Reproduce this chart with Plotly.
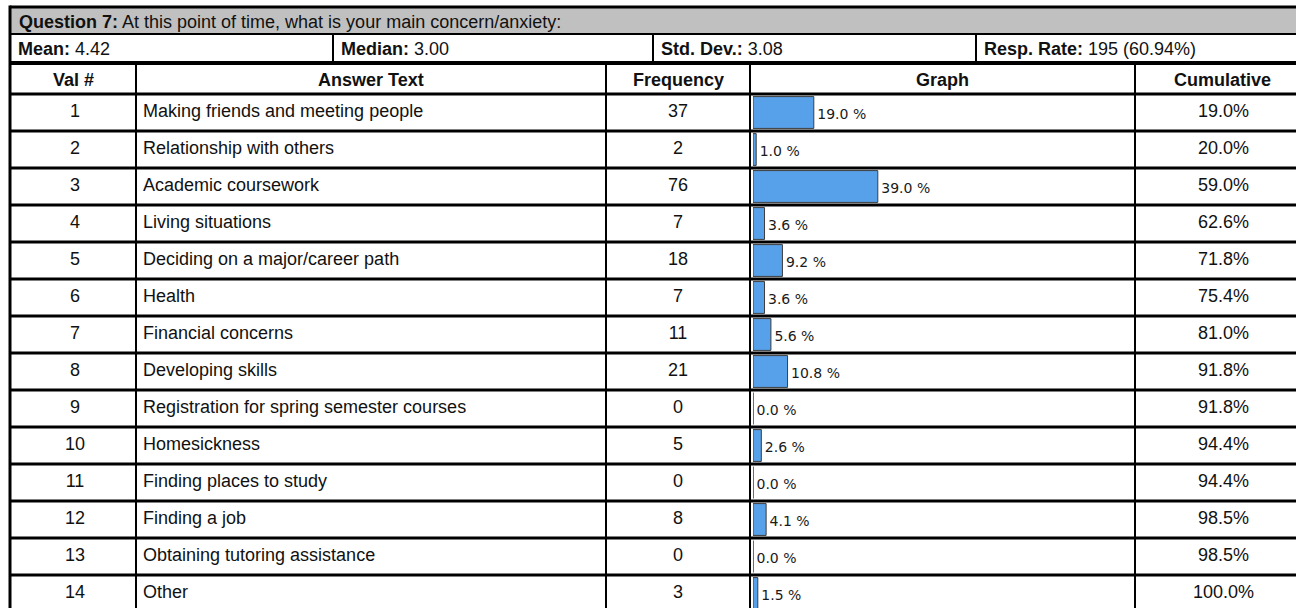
import plotly.graph_objects as go

# survey data
val_nums = list(range(1, 15))
answers = [
    "Making friends and meeting people",
    "Relationship with others",
    "Academic coursework",
    "Living situations",
    "Deciding on a major/career path",
    "Health",
    "Financial concerns",
    "Developing skills",
    "Registration for spring semester courses",
    "Homesickness",
    "Finding places to study",
    "Finding a job",
    "Obtaining tutoring assistance",
    "Other",
]
frequencies = [37, 2, 76, 7, 18, 7, 11, 21, 0, 5, 0, 8, 0, 3]
percents = [19.0, 1.0, 39.0, 3.6, 9.2, 3.6, 5.6, 10.8, 0.0, 2.6, 0.0, 4.1, 0.0, 1.5]
cumulative = [19.0, 20.0, 59.0, 62.6, 71.8, 75.4, 81.0, 91.8, 91.8, 94.4, 94.4, 98.5, 98.5, 100.0]

question_label = "Question 7:"
question_text = "At this point of time, what is your main concern/anxiety:"
stat_labels = ["Mean:", "Median:", "Std. Dev.:", "Resp. Rate:"]
stat_values = ["4.42", "3.00", "3.08", "195 (60.94%)"]
headers = ["Val #", "Answer Text", "Frequency", "Graph", "Cumulative"]

# page geometry (pixels)
W, H = 1296, 608
LEFT, RIGHT = 10, 1310
TOP, TITLE_BOTTOM, STATS_BOTTOM, HEAD_BOTTOM = 7, 34, 63, 94
ROW_H = 37
col_edges = [LEFT, 136, 606, 750, 1135, RIGHT]
stat_edges = [LEFT, 333, 653, 976, RIGHT]
BAR_X0, BAR_X100 = 753, 1073

FONT = "Liberation Sans, Arial, sans-serif"
FS = 18
INK = "#111111"

fig = go.Figure()

# bars in the Graph column
fig.add_trace(go.Bar(
    x=percents, y=val_nums, orientation="h", xaxis="x2", yaxis="y2",
    width=0.86, marker=dict(color="#57A1EA", line=dict(color="#3c3c3c", width=1)),
    hoverinfo="skip",
))
fig.add_trace(go.Scatter(
    x=percents, y=[v + 0.07 for v in val_nums], xaxis="x2", yaxis="y2",
    mode="markers+text", marker=dict(size=4, color="rgba(0,0,0,0)"),
    text=[f"{p:.1f} %" for p in percents], textposition="middle right",
    textfont=dict(family="DejaVu Sans", size=14, color="#1a1a1a"), hoverinfo="skip",
))

# cell text
col_mid = [(col_edges[i] + col_edges[i + 1]) / 2 for i in range(5)]
fig.add_trace(go.Scatter(
    x=[col_mid[0] + 2] * 14, y=val_nums, xaxis="x", yaxis="y2", mode="text",
    text=[str(v) for v in val_nums], textposition="middle center",
    textfont=dict(family=FONT, size=FS, color=INK), hoverinfo="skip",
))
fig.add_trace(go.Scatter(
    x=[col_edges[1] + 7] * 14, y=val_nums, xaxis="x", yaxis="y2", mode="text",
    text=answers, textposition="middle right",
    textfont=dict(family=FONT, size=FS, color=INK), hoverinfo="skip",
))
fig.add_trace(go.Scatter(
    x=[col_mid[2]] * 14, y=val_nums, xaxis="x", yaxis="y2", mode="text",
    text=[str(f) for f in frequencies], textposition="middle center",
    textfont=dict(family=FONT, size=FS, color=INK), hoverinfo="skip",
))
fig.add_trace(go.Scatter(
    x=[col_mid[4] + 1] * 14, y=val_nums, xaxis="x", yaxis="y2", mode="text",
    text=[f"{c:.1f}%" for c in cumulative], textposition="middle center",
    textfont=dict(family=FONT, size=FS, color=INK), hoverinfo="skip",
))

# table structure
shapes = []
shapes.append(dict(type="rect", xref="x", yref="y", x0=LEFT, x1=RIGHT, y0=TOP, y1=TITLE_BOTTOM,
                   fillcolor="#c0c0c0", line=dict(width=0), layer="below"))


def hline(y, w):
    shapes.append(dict(type="line", xref="x", yref="y", x0=LEFT, x1=RIGHT, y0=y, y1=y,
                       line=dict(color="black", width=w)))


def vline(x, y0, y1, w):
    shapes.append(dict(type="line", xref="x", yref="y", x0=x, x1=x, y0=y0, y1=y1,
                       line=dict(color="black", width=w)))


hline(TOP, 3)
hline(TITLE_BOTTOM, 2)
hline(STATS_BOTTOM, 4)
n_lines = (H - HEAD_BOTTOM) // ROW_H + 1
for k in range(n_lines):
    hline(HEAD_BOTTOM + k * ROW_H, 3)
vline(LEFT, TOP - 1.5, H + 5, 3)
for x in stat_edges[1:-1]:
    vline(x, TITLE_BOTTOM, STATS_BOTTOM, 2)
for x in col_edges[1:-1]:
    vline(x, STATS_BOTTOM, H + 5, 2)

annotations = []
annotations.append(dict(
    x=LEFT + 7, y=(TOP + TITLE_BOTTOM) / 2 + 1, xref="x", yref="y", xanchor="left", yanchor="middle",
    text=f"<b>{question_label}</b> {question_text}", showarrow=False,
    font=dict(family=FONT, size=FS, color=INK),
))
for i, (lab, val) in enumerate(zip(stat_labels, stat_values)):
    annotations.append(dict(
        x=stat_edges[i] + 6, y=(TITLE_BOTTOM + STATS_BOTTOM) / 2, xref="x", yref="y",
        xanchor="left", yanchor="middle", text=f"<b>{lab}</b> {val}", showarrow=False,
        font=dict(family=FONT, size=FS, color=INK),
    ))
for i, h in enumerate(headers):
    annotations.append(dict(
        x=col_mid[i], y=(STATS_BOTTOM + HEAD_BOTTOM) / 2 + 1, xref="x", yref="y",
        xanchor="center", yanchor="middle", text=f"<b>{h}</b>", showarrow=False,
        font=dict(family=FONT, size=FS, color=INK),
    ))

rows_top = 1 - HEAD_BOTTOM / H
rows_bottom_val = 0.5 + (H - HEAD_BOTTOM) / ROW_H
fig.update_layout(
    width=W, height=H, margin=dict(l=0, r=0, t=0, b=0),
    paper_bgcolor="white", plot_bgcolor="white", showlegend=False,
    shapes=shapes, annotations=annotations,
    xaxis=dict(domain=[0, 1], range=[0, W], visible=False, fixedrange=True),
    yaxis=dict(domain=[0, 1], range=[H, 0], visible=False, fixedrange=True),
    xaxis2=dict(domain=[BAR_X0 / W, BAR_X100 / W], range=[0, 100], visible=False,
                anchor="y2", fixedrange=True),
    yaxis2=dict(domain=[0, rows_top], range=[rows_bottom_val, 0.5],
                visible=False, anchor="x2", fixedrange=True),
)

# drop the page's default body margin so the figure fills the window exactly
fig.write_html(
    "out.html",
    config={"displayModeBar": False},
    post_script="document.body.style.margin='0';document.body.style.overflow='hidden';",
)
